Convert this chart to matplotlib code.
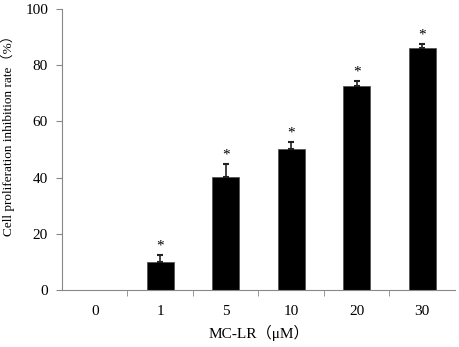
import matplotlib.pyplot as plt
import numpy as np

doses = ["0", "1", "5", "10", "20", "30"]
rates = [0, 10.0, 40.2, 50.2, 72.6, 86.1]
errs = [0, 2.5, 4.6, 2.5, 1.8, 1.4]
marks = ["", "*", "*", "*", "*", "*"]

plt.rcParams['font.family'] = ['Liberation Serif', 'Noto Sans CJK SC']

fig = plt.figure(figsize=(4.59, 3.47), dpi=100)
ax = fig.add_axes([0.135, 0.164, 0.856, 0.81])

x = np.arange(len(doses))
ax.bar(x, rates, width=0.41, color="black", edgecolor="#555555", linewidth=0.6)
ax.errorbar(x[1:], rates[1:], yerr=[np.zeros(5), errs[1:]], fmt="none",
            ecolor="#222222", elinewidth=1.2, capsize=2.5, capthick=1.5)
for xi, r, e, m in zip(x, rates, errs, marks):
    if m:
        ax.text(xi, r + e + 0.8, m, ha="center", va="bottom", fontsize=11)

ax.set_xlim(-0.5, len(doses) - 0.5)
ax.set_ylim(0, 100)
ax.set_yticks(range(0, 101, 20))
ax.set_xticks(x)
ax.set_xticklabels(doses)
ax.set_xticks(np.arange(0.5, len(doses) - 0.5), minor=True)
ax.tick_params(axis="x", which="major", length=0, pad=11, labelsize=11)
ax.tick_params(axis="x", which="minor", length=4, color="#888888", direction="out")
ax.tick_params(axis="y", length=4, color="#888888", labelsize=11, pad=6)

for s in ["top", "right"]:
    ax.spines[s].set_visible(False)
for s in ["left", "bottom"]:
    ax.spines[s].set_color("#888888")

ax.set_xlabel("MC-LR（μM）", fontsize=11, labelpad=5)
ax.set_ylabel("Cell proliferation inhibition rate（%）", fontsize=9.5)
ax.yaxis.set_label_coords(-0.12, 0.56)

fig.savefig("out.png", dpi=100)
